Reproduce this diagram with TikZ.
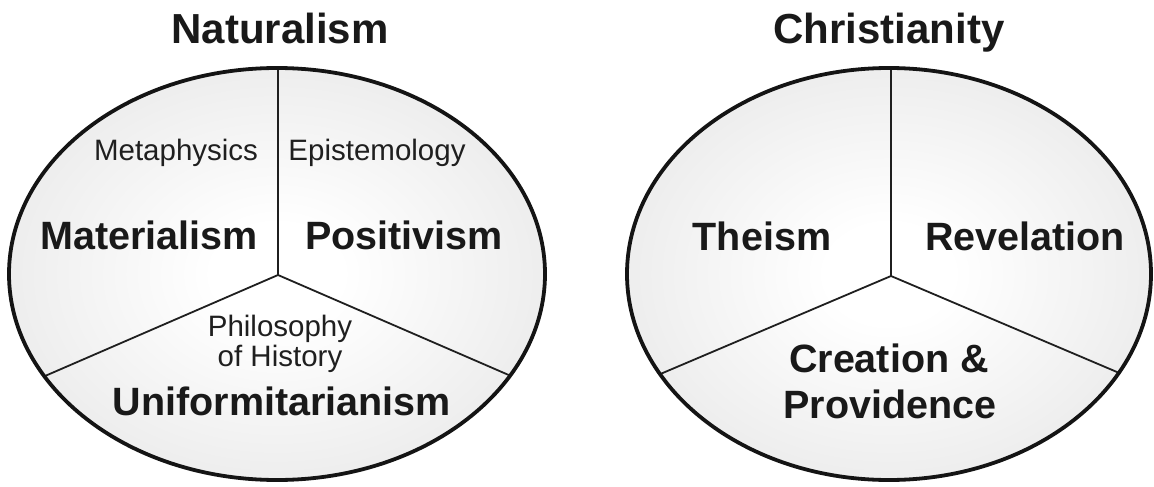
\documentclass[tikz,border=0pt]{standalone}
\usepackage{fontspec}
\setmainfont{Liberation Sans}
\usetikzlibrary{calc}
\pgfdeclareradialshading{ovalshade}{\pgfpoint{0bp}{0bp}}{color(0bp)=(white); color(6bp)=(white); color(50bp)=(black!16); color(100bp)=(black!16)}
\tikzset{
  titletext/.style={font=\fontsize{42}{46}\selectfont\bfseries, anchor=base, inner sep=0pt, text=black!90},
  bigtext/.style={font=\fontsize{39.5}{44}\selectfont\bfseries, anchor=base, inner sep=0pt, text=black!90},
  smalltext/.style={font=\fontsize{29.5}{34}\selectfont, anchor=base, inner sep=0pt, text=black!88},
  ovalfill/.style={shading=ovalshade},
  ovalline/.style={draw=black!92, line width=3.8pt},
  divider/.style={draw=black!88, line width=1.8pt},
}
\begin{document}
\begin{tikzpicture}[x=1pt,y=-1pt]
\useasboundingbox (0,0) rectangle (1154,487);
% ---- left oval ----
\coordinate (C1) at (277,274);
\path[ovalfill] (C1) ellipse [x radius=268pt, y radius=206pt];
\coordinate (J1) at (278,275);
\coordinate (T1) at (278,40);
\coordinate (L1) at (45,376);
\coordinate (R1) at (511,376);
\begin{scope}
  \clip (C1) ellipse [x radius=268pt, y radius=206pt];
  \draw[divider] (J1) -- (T1);
  \draw[divider] (J1) -- ($(J1)!1.4!(L1)$);
  \draw[divider] (J1) -- ($(J1)!1.4!(R1)$);
\end{scope}
\draw[ovalline] (C1) ellipse [x radius=268pt, y radius=206pt];
% ---- right oval ----
\coordinate (C2) at (889,274);
\path[ovalfill] (C2) ellipse [x radius=262pt, y radius=206pt];
\coordinate (J2) at (891,276);
\coordinate (T2) at (891,40);
\coordinate (L2) at (658,375);
\coordinate (R2) at (1124,375);
\begin{scope}
  \clip (C2) ellipse [x radius=262pt, y radius=206pt];
  \draw[divider] (J2) -- (T2);
  \draw[divider] (J2) -- ($(J2)!1.4!(L2)$);
  \draw[divider] (J2) -- ($(J2)!1.4!(R2)$);
\end{scope}
\draw[ovalline] (C2) ellipse [x radius=262pt, y radius=206pt];
% ---- texts ----
\node[titletext] (nat) at (280,44) {Naturalism};
\node[titletext] (chr) at (889,44) {Christianity};
\node[smalltext] (meta) at (176,160) {Metaphysics};
\node[smalltext] (epi) at (377,160) {Epistemology};
\node[bigtext] (mat) at (149,249) {Materialism};
\node[bigtext] (pos) at (404,249) {Positivism};
\node[smalltext] (phil) at (280,336) {Philosophy};
\node[smalltext] (hist) at (280,366) {of History};
\node[bigtext] (uni) at (282,415) {Uniformitarianism};
\node[bigtext] (the) at (762,250) {Theism};
\node[bigtext] (rev) at (1025,250) {Revelation};
\node[bigtext] (cre) at (889,372) {Creation \&};
\node[bigtext] (pro) at (890,418) {Providence};
\end{tikzpicture}
\end{document}
